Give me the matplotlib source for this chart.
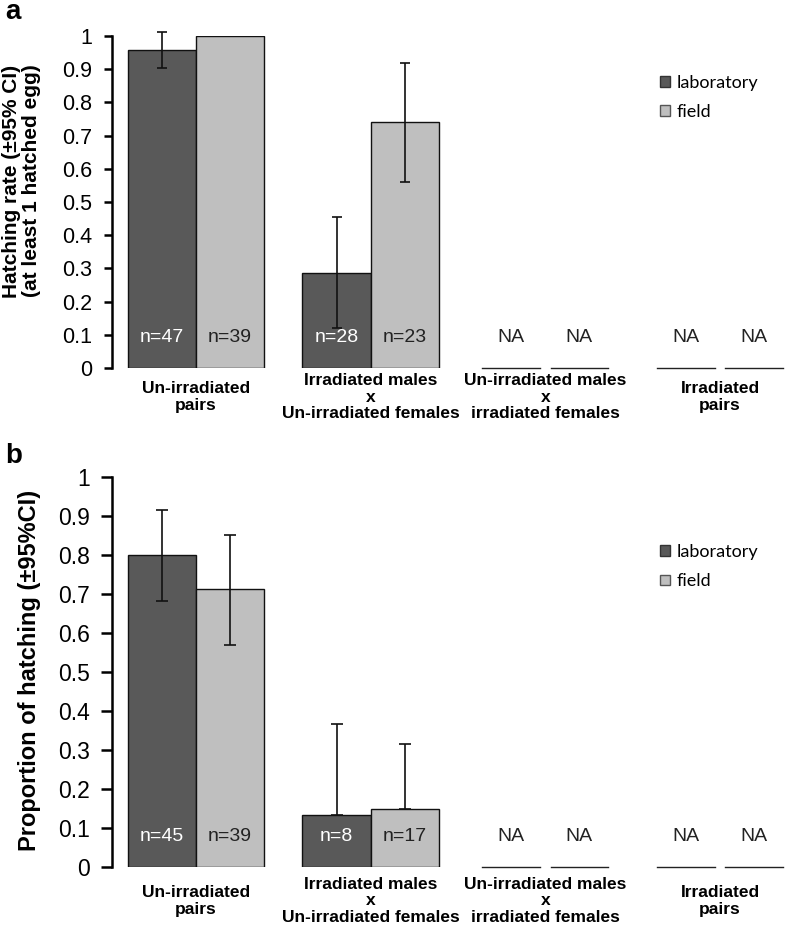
import numpy as np
import matplotlib
matplotlib.use("Agg")
import matplotlib.pyplot as plt
from matplotlib.patches import Patch
from matplotlib import font_manager

names = set(f.name for f in font_manager.fontManager.ttflist)
narrow = "Liberation Sans Narrow" if "Liberation Sans Narrow" in names else "Liberation Sans"
plt.rcParams["font.family"] = ["Liberation Sans", "DejaVu Sans"]

groups = ["Un-irradiated\npairs",
          "Irradiated males\nx\nUn-irradiated females",
          "Un-irradiated males\nx\nirradiated females",
          "Irradiated\npairs"]
series = ["laboratory", "field"]

# panel a: hatching rate (at least 1 hatched egg)
a_lab = [0.957, 0.286, np.nan, np.nan]
a_lab_lo = [0.903, 0.120, np.nan, np.nan]
a_lab_hi = [1.013, 0.455, np.nan, np.nan]
a_field = [1.0, 0.740, np.nan, np.nan]
a_field_lo = [np.nan, 0.560, np.nan, np.nan]
a_field_hi = [np.nan, 0.920, np.nan, np.nan]
a_lab_n = ["n=47", "n=28", "NA", "NA"]
a_field_n = ["n=39", "n=23", "NA", "NA"]

# panel b: proportion of hatching
b_lab = [0.800, 0.133, np.nan, np.nan]
b_lab_lo = [0.682, 0.133, np.nan, np.nan]
b_lab_hi = [0.915, 0.367, np.nan, np.nan]
b_field = [0.713, 0.149, np.nan, np.nan]
b_field_lo = [0.570, 0.149, np.nan, np.nan]
b_field_hi = [0.851, 0.315, np.nan, np.nan]
b_lab_n = ["n=45", "n=8", "NA", "NA"]
b_field_n = ["n=39", "n=17", "NA", "NA"]

yticks = [0, 0.1, 0.2, 0.3, 0.4, 0.5, 0.6, 0.7, 0.8, 0.9, 1]
ytick_labels = ["0", "0.1", "0.2", "0.3", "0.4", "0.5", "0.6", "0.7", "0.8", "0.9", "1"]

dark = "#595959"
light = "#bfbfbf"
w = 0.39
x = np.arange(len(groups))


def panel(ax, lab, lab_lo, lab_hi, field, field_lo, field_hi, lab_n, field_n,
          ylabel, ylab_size, ylab_x, ylab_y, tick_size, tick_len, letter, letter_y,
          cat_off, leg_y, capsize):
    for off, vals, lo, hi, col, ns, tcol in [
            (-w / 2, lab, lab_lo, lab_hi, dark, lab_n, "white"),
            (w / 2, field, field_lo, field_hi, light, field_n, "#222222")]:
        vals = np.array(vals)
        ok = ~np.isnan(vals)
        ax.bar(x[ok] + off, vals[ok], w, color=col, edgecolor="#111111",
               linewidth=1.0, zorder=2)
        lo = np.array(lo)
        hi = np.array(hi)
        eok = ~np.isnan(hi)
        eb = ax.errorbar(x[eok] + off, vals[eok],
                         yerr=[vals[eok] - lo[eok], hi[eok] - vals[eok]],
                         fmt="none", ecolor="#111111", elinewidth=1.2,
                         capsize=capsize, capthick=1.2, zorder=3)
        for art in list(eb.lines[1]) + list(eb.lines[2]):
            art.set_clip_on(False)
        for xi, v, n in zip(x + off, vals, ns):
            ax.annotate(n, xy=(xi, 0), xytext=(0, 22), textcoords="offset points",
                        ha="center", va="center", fontsize=14,
                        color=tcol if not np.isnan(v) else "#222222", zorder=4)
            if np.isnan(v):
                ax.plot([xi - 0.165, xi + 0.165], [0, 0], color="#222222",
                        lw=1.0, clip_on=False)
    ax.set_xlim(-0.48, 3.38)
    ax.set_ylim(0, 1)
    ax.set_yticks(yticks)
    ax.set_yticklabels(ytick_labels, fontsize=tick_size)
    ax.set_xticks([])
    for s in ["top", "right", "bottom"]:
        ax.spines[s].set_visible(False)
    ax.spines["left"].set_linewidth(1.8)
    ax.tick_params(axis="y", length=tick_len, width=1.8, pad=8)
    ax.set_ylabel(ylabel, fontsize=ylab_size, fontweight="bold", linespacing=1.1,
                  va="center")
    ax.yaxis.set_label_coords(ylab_x, ylab_y)
    for xi, g in zip(x, groups):
        ax.annotate(g, xy=(xi, 0), xycoords=("data", "axes fraction"),
                    xytext=(0, cat_off), textcoords="offset points",
                    ha="center", va="center", fontsize=12.5,
                    fontweight="bold", family=narrow, linespacing=1.15)
    handles = [Patch(facecolor=dark, edgecolor="#333333"),
               Patch(facecolor=light, edgecolor="#555555")]
    ax.legend(handles, series, loc="center left", bbox_to_anchor=(0.812, leg_y),
              frameon=False, handlelength=0.55, handleheight=0.55, borderpad=0,
              borderaxespad=0, handletextpad=0.4, labelspacing=0.75,
              prop={"family": ["Lato", "DejaVu Sans"], "size": 13})
    ax.text(-0.158, letter_y, letter, transform=ax.transAxes, fontsize=20,
            fontweight="bold", va="center", ha="left")


fig = plt.figure(figsize=(7.87, 9.31), dpi=100)
ax_a = fig.add_axes([0.1423, 0.6047, 0.857, 0.3566])
ax_b = fig.add_axes([0.1423, 0.0688, 0.857, 0.4189])

panel(ax_a, a_lab, a_lab_lo, a_lab_hi, a_field, a_field_lo, a_field_hi,
      a_lab_n, a_field_n, "Hatching rate (±95% CI)\n(at least 1 hatched egg)",
      15, -0.134, 0.563, 15.5, 6, "a", 1.072, -21, 0.815, 3.5)
panel(ax_b, b_lab, b_lab_lo, b_lab_hi, b_field, b_field_lo, b_field_hi,
      b_lab_n, b_field_n, "Proportion of hatching (±95%CI)",
      17, -0.123, 0.503, 16.5, 8, "b", 1.054, -24.5, 0.77, 4)

fig.savefig("out.png", dpi=100)
